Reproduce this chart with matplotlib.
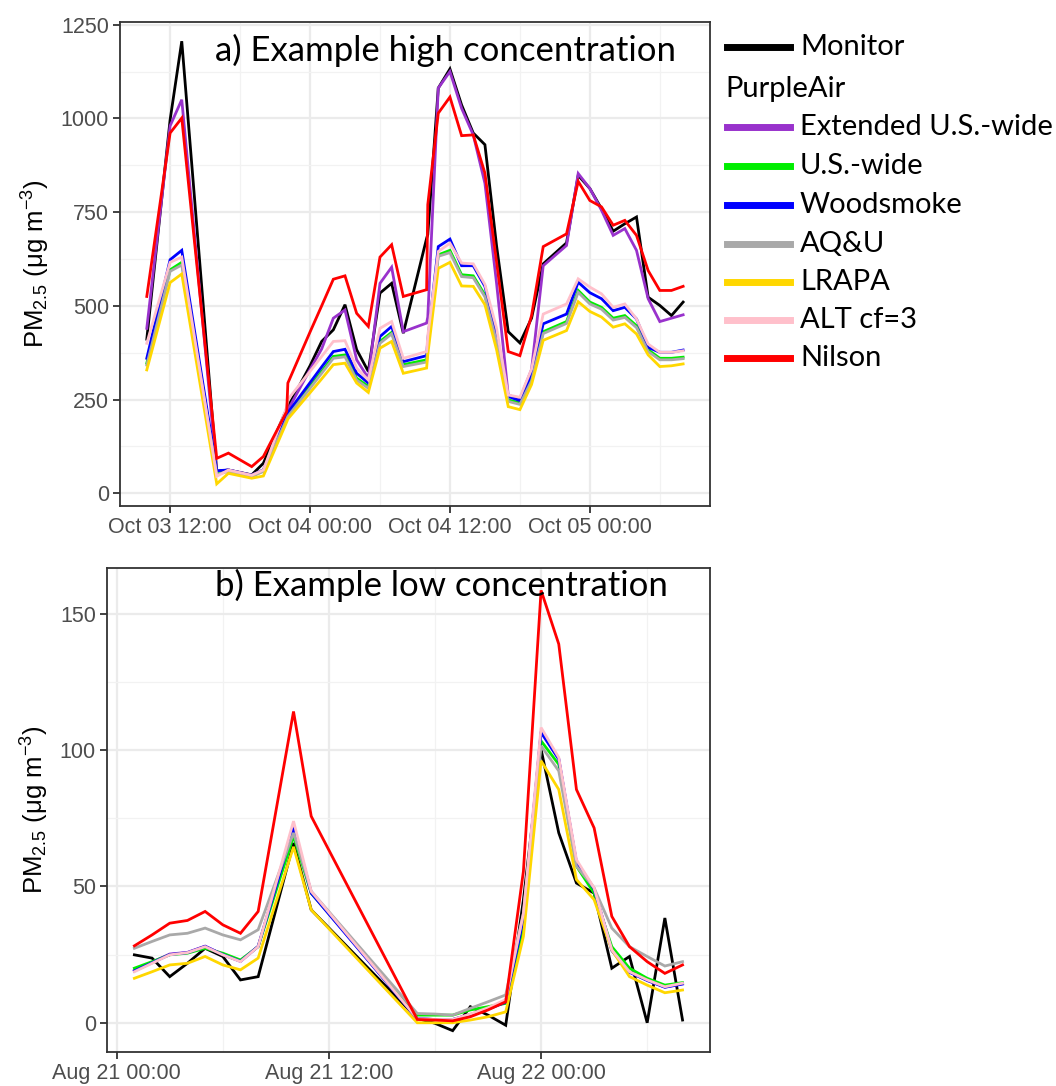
import pandas as pd
import matplotlib
matplotlib.use('Agg')
import matplotlib.pyplot as plt
import matplotlib.dates as mdates
from matplotlib.lines import Line2D
from matplotlib.ticker import MultipleLocator

names = ['Monitor', 'Extended U.S.-wide', 'U.S.-wide', 'Woodsmoke', 'AQ&U', 'LRAPA', 'ALT cf=3', 'Nilson']
colors = ['black', '#9932CC', '#00EE00', '#0000FF', '#A9A9A9', '#FFD700', '#FFC0CB', '#FF0000']

# a) high concentration, hours after Oct 03 12:00
start_a = pd.Timestamp('2020-10-03 12:00')
hours_a = [-2, 0, 1, 4, 5, 7, 8, 10, 10.1, 12, 13, 14, 15, 16, 17, 18, 19, 20, 22, 22.1,
           23, 24, 25, 26, 27, 28, 29, 30, 31, 32, 34, 35, 36, 37, 38, 39, 40, 41, 42, 43, 44]
monitor_a = [411, 996, 1206, 58, 62, 49, 80, 225, 230, 340, 405, 436, 503, 383, 325, 534, 560, 427, 680, 690,
             1081, 1132, 1036, 961, 930, 660, 431, 401, 467, 612, 668, 848, 813, 759, 699, 719, 737, 523, 501, 474, 510]
extended_a = [440, 980, 1050, 58, 62, 48, 62, 215, 222, 330, 385, 467, 489, 356, 307, 560, 603, 431, 454, 470,
              1081, 1125, 1027, 956, 827, 560, 262, 251, 330, 607, 661, 853, 813, 755, 688, 706, 648, 519, 458, 467, 476]
uswide_a = [347, 596, 616, 55, 60, 45, 60, 200, 208, 285, 325, 365, 369, 307, 285, 405, 429, 343, 356, 400,
            636, 648, 583, 580, 529, 409, 249, 241, 305, 431, 458, 541, 510, 496, 467, 474, 447, 383, 360, 360, 363]
woodsmoke_a = [360, 623, 648, 60, 62, 48, 62, 205, 215, 295, 337, 378, 384, 320, 294, 418, 445, 351, 367, 410,
               658, 678, 607, 607, 552, 423, 258, 247, 317, 452, 478, 563, 535, 519, 487, 496, 465, 389, 376, 376, 382]
aqu_a = [342, 592, 609, 50, 58, 45, 58, 198, 205, 280, 320, 360, 364, 302, 280, 400, 425, 338, 350, 395,
         632, 642, 578, 575, 524, 404, 245, 237, 300, 426, 453, 536, 505, 491, 462, 469, 442, 378, 356, 356, 359]
lrapa_a = [329, 562, 585, 25, 53, 40, 46, 190, 198, 268, 305, 343, 347, 294, 269, 387, 405, 320, 334, 370,
           600, 616, 553, 552, 503, 383, 231, 223, 290, 408, 434, 511, 485, 470, 443, 452, 425, 369, 338, 340, 345]
alt_a = [400, 616, 630, 45, 62, 48, 62, 230, 250, 325, 365, 405, 407, 334, 302, 440, 458, 360, 378, 420,
         645, 667, 614, 612, 557, 440, 262, 256, 331, 478, 505, 572, 550, 532, 496, 505, 465, 398, 376, 376, 380]
nilson_a = [525, 961, 1001, 93, 107, 71, 98, 218, 294, 430, 500, 571, 580, 480, 445, 630, 663, 525, 543, 770,
            1014, 1057, 954, 956, 854, 617, 378, 367, 474, 658, 692, 832, 781, 764, 715, 728, 688, 594, 541, 541, 552]

# b) low concentration, hours after Aug 21 00:00
start_b = pd.Timestamp('2020-08-21 00:00')
hours_b = [1, 2, 3, 4, 5, 6, 7, 8, 10, 11, 17, 18, 19, 20, 21, 22, 23, 24, 25, 26, 27, 28, 29, 30, 31, 32]
monitor_b = [24.9, 23.7, 16.9, 21.8, 27.3, 24.3, 15.7, 16.9, 65.9, 41.4, 1.6, -0.2, -2.9, 5.9, 2.8, -0.9,
             45, 100.2, 69.6, 51.2, 47.5, 20.0, 24.3, 0, 38.4, 1.0]
extended_b = [19.2, 22.2, 25.2, 25.8, 28.1, 25.0, 22.6, 28.0, 72.0, 47.8, 1.5, 1.2, 1.2, 3.1, 5.2, 8.0,
              39, 106.8, 96.8, 59.0, 49.2, 26.6, 18.6, 15.6, 13.1, 14.3]
uswide_b = [20.0, 22.4, 24.9, 25.5, 27.3, 25.5, 23.0, 27.9, 68.4, 47.5, 2.8, 2.8, 2.8, 4.7, 5.9, 7.1,
            35.3, 103.3, 94.7, 57.4, 47.5, 27.9, 20.0, 16.3, 13.8, 14.7]
woodsmoke_b = [19.0, 22.0, 25.0, 25.7, 28.0, 25.0, 22.5, 28.0, 71.4, 47.5, 1.5, 1.2, 1.2, 3.0, 5.0, 7.5,
               38, 106.4, 96.6, 58.6, 49.0, 26.5, 18.5, 15.5, 13.0, 14.2]
aqu_b = [27.3, 29.8, 32.2, 32.8, 34.7, 32.2, 30.4, 34.1, 69.6, 48.2, 3.4, 3.2, 2.8, 5.3, 7.7, 10.2,
         40.2, 101.5, 92.3, 57.4, 49.4, 34.7, 27.9, 24.3, 20.8, 22.4]
lrapa_b = [16.3, 18.7, 21.2, 21.8, 24.3, 21.2, 19.4, 23.7, 64.5, 41.4, 0, 0, 0, 1.0, 2.2, 4.0,
           31.6, 96.0, 85.5, 52.5, 45.1, 26.7, 16.9, 13.8, 11.0, 12.0]
alt_b = [18.7, 21.8, 24.9, 25.7, 27.9, 24.9, 22.4, 27.9, 73.9, 48.2, 1.5, 1.2, 1.2, 3.2, 5.5, 8.5,
         40, 108.2, 97.2, 59.8, 49.4, 26.7, 18.7, 15.7, 13.2, 14.5]
nilson_b = [28.2, 32.2, 36.5, 37.5, 40.8, 35.9, 32.8, 40.8, 114.1, 75.7, 1.2, 1.0, 0.7, 2.2, 4.7, 7.7,
            55.5, 158.5, 138.8, 85.5, 71.4, 39.0, 27.9, 22.4, 18.1, 21.2]

series_a = [monitor_a, extended_a, uswide_a, woodsmoke_a, aqu_a, lrapa_a, alt_a, nilson_a]
series_b = [monitor_b, extended_b, uswide_b, woodsmoke_b, aqu_b, lrapa_b, alt_b, nilson_b]

TICK_FONT = 'Liberation Sans'
LABEL_FONT = 'Lato'
plt.rcParams['mathtext.fontset'] = 'custom'
plt.rcParams['mathtext.rm'] = TICK_FONT
plt.rcParams['mathtext.it'] = TICK_FONT


def draw_panel(ax, start, hours, series, xpad, ystep, ylim):
    t = start + pd.to_timedelta(hours, unit='h')
    for vals, c in zip(series, colors):
        ax.plot(t, vals, color=c, lw=2.0, solid_joinstyle='miter')
    lo = start + pd.Timedelta(hours=min(hours) - xpad)
    hi = start + pd.Timedelta(hours=max(hours) + xpad)
    ax.set_xlim(lo, hi)
    ax.set_ylim(*ylim)
    ax.xaxis.set_major_locator(mdates.HourLocator(byhour=[0, 12]))
    ax.xaxis.set_minor_locator(mdates.HourLocator(byhour=[6, 18]))
    ax.xaxis.set_major_formatter(mdates.DateFormatter('%b %d %H:%M'))
    ax.yaxis.set_major_locator(MultipleLocator(ystep))
    ax.yaxis.set_minor_locator(MultipleLocator(ystep / 2))
    ax.grid(which='major', color='#EBEBEB', lw=1.6)
    ax.grid(which='minor', color='#F2F2F2', lw=0.9)
    ax.set_axisbelow(True)
    for s in ax.spines.values():
        s.set_color('#333333')
        s.set_linewidth(1.3)
    ax.tick_params(which='major', length=5, width=1.3, color='#333333', labelcolor='#4D4D4D',
                   labelsize=15.5, pad=3)
    ax.tick_params(which='minor', length=0)
    for lab in ax.get_xticklabels() + ax.get_yticklabels():
        lab.set_fontfamily(TICK_FONT)
    ax.set_ylabel('PM$_{2.5}$ (μg m$^{-3}$)', fontsize=18.5, fontfamily=TICK_FONT, labelpad=6)


fig = plt.figure(figsize=(10.56, 10.86), dpi=100)
ax1 = fig.add_axes([0.1136, 0.5341, 0.5587, 0.4459])
ax2 = fig.add_axes([0.1013, 0.0316, 0.5710, 0.4454])

draw_panel(ax1, start_a, hours_a, series_a, 2.3, 250, (-34, 1258))
draw_panel(ax2, start_b, hours_b, series_b, 1.55, 50, (-10.6, 166.7))

W, H = 1056.0, 1086.0
fig.text(215 / W, 1 - 50 / H, 'a) Example high concentration', fontsize=25, fontfamily=LABEL_FONT,
         ha='left', va='center')
fig.text(215 / W, 1 - 585 / H, 'b) Example low concentration', fontsize=25, fontfamily=LABEL_FONT,
         ha='left', va='center')

# legend drawn by hand so "PurpleAir" sits as a plain heading
rows = [('Monitor', 47), ('PurpleAir', 89), ('Extended U.S.-wide', 127), ('U.S.-wide', 166),
        ('Woodsmoke', 205), ('AQ&U', 244), ('LRAPA', 282), ('ALT cf=3', 320), ('Nilson', 358)]
ci = 0
for label, y in rows:
    yf = 1 - y / H
    if label == 'PurpleAir':
        fig.text(725 / W, yf, label, fontsize=21, fontfamily=LABEL_FONT, va='center', ha='left')
        continue
    fig.add_artist(Line2D([727 / W, 790 / W], [yf, yf], color=colors[ci], lw=5, transform=fig.transFigure))
    fig.text(800 / W, yf, label, fontsize=21, fontfamily=LABEL_FONT, va='center', ha='left')
    ci += 1

plt.savefig('out.png', dpi=100)
